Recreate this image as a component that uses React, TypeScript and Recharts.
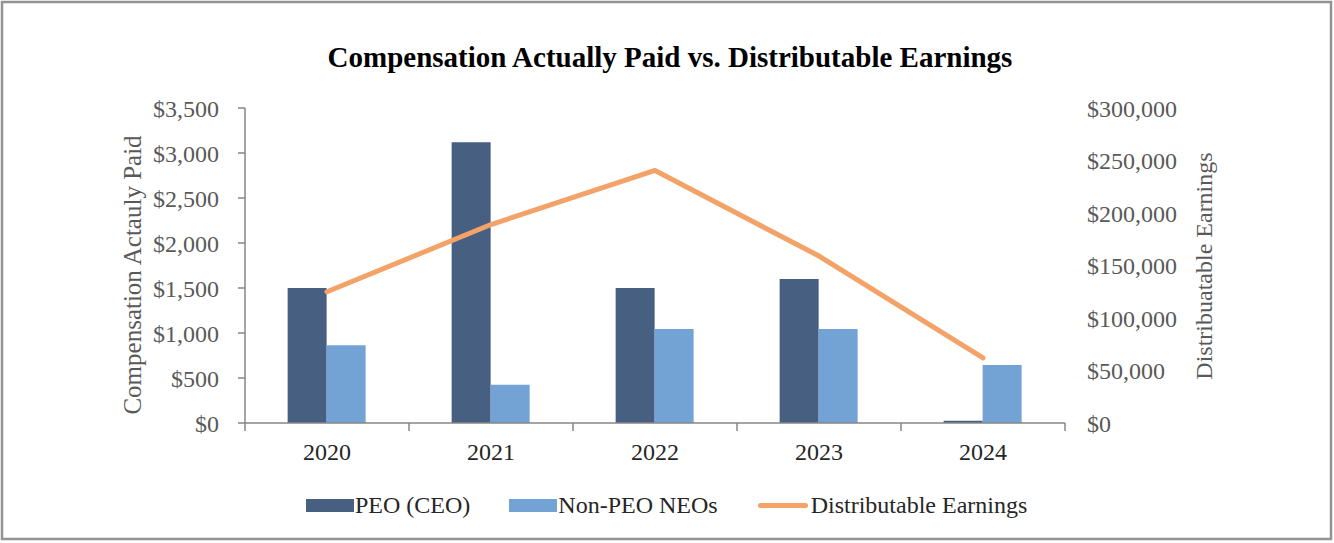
import React from "react";
import { ComposedChart, Bar, Line, XAxis, YAxis } from "recharts";

// values
const years = ["2020", "2021", "2022", "2023", "2024"];
const peoPaid = [1500, 3120, 1500, 1600, 25];
const nonPeoPaid = [865, 425, 1045, 1045, 645];
const distributableEarnings = [125000, 189000, 240500, 159000, 62000];

const leftTicks = [0, 500, 1000, 1500, 2000, 2500, 3000, 3500];
const rightTicks = [0, 50000, 100000, 150000, 200000, 250000, 300000];

const W = 1334;
const H = 543;
const PLOT_LEFT = 245;
const PLOT_RIGHT = 1065;
const PLOT_TOP = 108;
const PLOT_BOTTOM = 423;

const DARK = "#475F80";
const LIGHT = "#73A2D4";
const ORANGE = "#F3A268";
const AXIS = "#868686";
const LABEL = "#595959";
const SERIF = '"Liberation Serif", "Times New Roman", serif';

const data = years.map((year, i) => ({
  year,
  peo: peoPaid[i],
  nonPeo: nonPeoPaid[i],
  earnings: distributableEarnings[i],
}));

const money = (v: number) => "$" + v.toLocaleString("en-US");

const YearTick = (props: any) => {
  const { x, y, payload } = props;
  const half =
    typeof payload.offset === "number" && payload.offset > 0
      ? payload.offset
      : (PLOT_RIGHT - PLOT_LEFT) / years.length / 2;
  const last = payload.value === years[years.length - 1];
  return (
    <g>
      <line x1={x - half} y1={y} x2={x - half} y2={y + 8} stroke={AXIS} strokeWidth={1.5} />
      {last && <line x1={x + half} y1={y} x2={x + half} y2={y + 8} stroke={AXIS} strokeWidth={1.5} />}
      <text x={x} y={y + 37} textAnchor="middle" fontSize={24} fontFamily={SERIF} fill="#262626">
        {payload.value}
      </text>
    </g>
  );
};

const legendItems = [
  { name: "PEO (CEO)", color: DARK, kind: "box", gap: 39 },
  { name: "Non-PEO NEOs", color: LIGHT, kind: "box", gap: 40 },
  { name: "Distributable Earnings", color: ORANGE, kind: "line", gap: 0 },
];

export default function App() {
  return (
    <div
      style={{
        position: "absolute",
        left: 0,
        top: 0,
        width: W,
        height: H,
        background: "#fff",
        fontFamily: SERIF,
      }}
    >
      <ComposedChart
        width={W}
        height={H}
        data={data}
        margin={{ top: PLOT_TOP, right: 0, bottom: 0, left: 0 }}
        barCategoryGap="26%"
        barGap={0}
        style={{ fontFamily: SERIF }}
      >
        <XAxis
          dataKey="year"
          height={H - PLOT_BOTTOM}
          axisLine={{ stroke: AXIS, strokeWidth: 1.5 }}
          tickLine={false}
          tickSize={0}
          tickMargin={0}
          tick={<YearTick />}
          interval={0}
        />
        <YAxis
          yAxisId="left"
          width={PLOT_LEFT}
          domain={[0, 3500]}
          ticks={leftTicks}
          tickFormatter={money}
          axisLine={{ stroke: AXIS, strokeWidth: 1.5 }}
          tickLine={{ stroke: AXIS, strokeWidth: 1.5 }}
          tickSize={7}
          tickMargin={19}
          tick={{ fill: LABEL, fontSize: 24, fontFamily: SERIF }}
          interval={0}
        />
        <YAxis
          yAxisId="right"
          orientation="right"
          width={W - PLOT_RIGHT}
          domain={[0, 300000]}
          ticks={rightTicks}
          tickFormatter={money}
          axisLine={false}
          tickLine={false}
          tickSize={0}
          tickMargin={22}
          tick={{ fill: LABEL, fontSize: 24, fontFamily: SERIF, textAnchor: "start" }}
          interval={0}
        />
        <Bar yAxisId="left" dataKey="peo" name="PEO (CEO)" fill={DARK} isAnimationActive={false} />
        <Bar yAxisId="left" dataKey="nonPeo" name="Non-PEO NEOs" fill={LIGHT} isAnimationActive={false} />
        <Line
          yAxisId="right"
          type="linear"
          dataKey="earnings"
          name="Distributable Earnings"
          stroke={ORANGE}
          strokeWidth={5}
          strokeLinecap="round"
          strokeLinejoin="round"
          dot={false}
          activeDot={false}
          isAnimationActive={false}
        />
      </ComposedChart>

      {/* titles and frame */}
      <svg
        width={W}
        height={H}
        style={{ position: "absolute", left: 0, top: 0, pointerEvents: "none", fontFamily: SERIF }}
      >
        <rect x={2} y={2} width={W - 5} height={H - 6} fill="none" stroke="#939393" strokeWidth={2.5} />
        <text x={670} y={67} textAnchor="middle" fontSize={29} fontWeight="bold" fill="#000">
          Compensation Actually Paid vs. Distributable Earnings
        </text>
        <text transform="translate(141,275) rotate(-90)" textAnchor="middle" fontSize={25} fill={LABEL}>
          Compensation Actauly Paid
        </text>
        <text transform="translate(1212,266) rotate(-90)" textAnchor="middle" fontSize={24} fill={LABEL}>
          Distribuatable Earnings
        </text>
      </svg>

      <div
        style={{
          position: "absolute",
          left: 306,
          top: 490,
          height: 30,
          display: "flex",
          alignItems: "center",
          fontSize: 24,
          fontFamily: SERIF,
          color: "#262626",
          whiteSpace: "nowrap",
        }}
      >
        {legendItems.map((item) => (
          <div key={item.name} style={{ display: "flex", alignItems: "center", marginRight: item.gap }}>
            {item.kind === "box" ? (
              <span style={{ width: 48, height: 13, background: item.color, marginRight: 1 }} />
            ) : (
              <span style={{ width: 50, height: 5, background: item.color, borderRadius: 3, marginRight: 3 }} />
            )}
            <span>{item.name}</span>
          </div>
        ))}
      </div>
    </div>
  );
}
